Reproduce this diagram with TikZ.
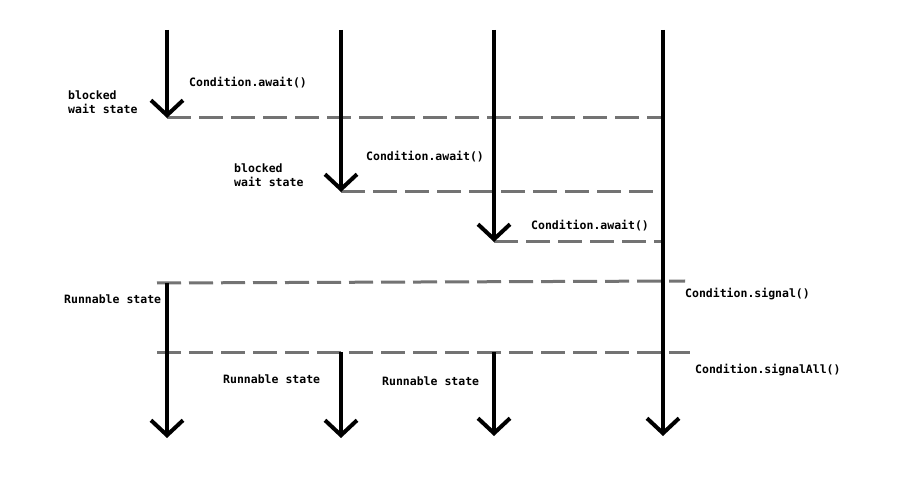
\documentclass[tikz,border=0pt]{standalone}
\usepackage{fontspec}
\newfontfamily\lblfont{DejaVu Sans Mono}
\usetikzlibrary{arrows.meta}
\begin{document}
\begin{tikzpicture}[x=1pt,y=-1pt,
  thread/.style={line width=4pt,-{Straight Barb[length=15pt,width=32pt,line width=4pt]}},
  sig/.style={line width=3pt,black!55,dash pattern=on 24pt off 8pt},
  lbl/.style={font=\lblfont\bfseries\fontsize{11.5}{14.5}\selectfont,anchor=west,inner sep=0pt,align=left}]
\useasboundingbox[fill=white] (0,0) rectangle (918,478);
% coordinates
\coordinate (a0) at (167,30);  \coordinate (a1) at (167,118);
\coordinate (a2) at (167,283); \coordinate (a3) at (167,438);
\coordinate (b0) at (341,30);  \coordinate (b1) at (341,192);
\coordinate (b2) at (341,352); \coordinate (b3) at (341,438);
\coordinate (c0) at (494,30);  \coordinate (c1) at (494,242);
\coordinate (c2) at (494,352); \coordinate (c3) at (494,436);
\coordinate (d0) at (663,30);  \coordinate (d3) at (663,436);
\coordinate (d1) at (663,118); \coordinate (d2) at (663,192); \coordinate (d4) at (663,242);
\coordinate (s1) at (157,283); \coordinate (s2) at (685,281);
\coordinate (t1) at (157,352); \coordinate (t2) at (690,352);
% signal lines
\draw[sig] (a1) -- (d1);
\draw[sig] (b1) -- (d2);
\draw[sig] (c1) -- (d4);
\draw[sig] (s1) -- (s2);
\draw[sig] (t1) -- (t2);
% threads
\draw[thread] (a0) -- (a1);
\draw[thread] (a2) -- (a3);
\draw[thread] (b0) -- (b1);
\draw[thread] (b2) -- (b3);
\draw[thread] (c0) -- (c1);
\draw[thread] (c2) -- (c3);
\draw[thread] (d0) -- (d3);
% labels
\node[lbl] (l1) at (68,102) {blocked\\wait state};
\node[lbl] (l2) at (189,83) {Condition.await()};
\node[lbl] (l3) at (234,175) {blocked\\wait state};
\node[lbl] (l4) at (366,157) {Condition.await()};
\node[lbl] (l5) at (531,226) {Condition.await()};
\node[lbl] (l6) at (64,299) {Runnable state};
\node[lbl] (l7) at (685,294) {Condition.signal()};
\node[lbl] (l8) at (223,379) {Runnable state};
\node[lbl] (l9) at (382,381) {Runnable state};
\node[lbl] (l10) at (695,370) {Condition.signalAll()};
\end{tikzpicture}
\end{document}
